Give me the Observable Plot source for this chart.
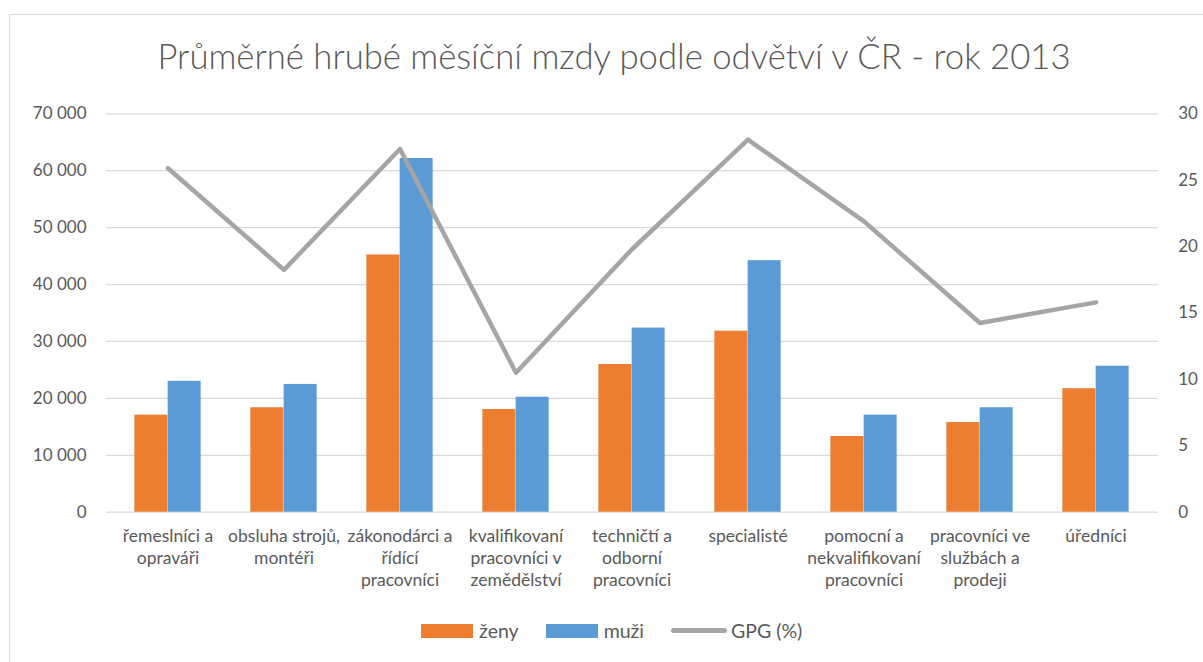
<!DOCTYPE html>
<html>
<head>
<meta charset="utf-8">
<script src="https://cdn.jsdelivr.net/npm/d3@7"></script>
<script src="https://cdn.jsdelivr.net/npm/@observablehq/plot@0.6"></script>
<style>
  html, body { margin: 0; padding: 0; background: #fff; width: 1203px; height: 662px; overflow: hidden; }
  body { position: relative; font-family: Lato, "Open Sans", sans-serif; color: #595959; }
  #frame { position: absolute; left: 9px; top: 14px; width: 1230px; height: 700px; border: 1.5px solid #d9d9d9; box-sizing: border-box; }
  #title { position: absolute; left: 9px; width: 1210px; top: 35px; text-align: center; font-size: 34.7px; font-weight: 300; color: #595959; white-space: nowrap; }
  #chart { position: absolute; left: 0; top: 0; }
  #legend { position: absolute; left: 421px; top: 619px; display: flex; align-items: center; font-size: 19.5px; color: #595959; }
  .sw { display: inline-block; width: 52px; height: 14px; margin-right: 6px; }
  .item { display: flex; align-items: center; margin-right: 27px; }
  .ln { display: inline-block; width: 56px; height: 5px; border-radius: 3px; background: #a5a5a5; margin-right: 4px; }
</style>
</head>
<body>
<div id="frame"></div>
<div id="title">Průměrné hrubé měsíční mzdy podle odvětví v ČR - rok 2013</div>
<div id="chart"></div>
<div id="legend"></div>
<script>
const categories = [
  "řemeslníci a opraváři",
  "obsluha strojů, montéři",
  "zákonodárci a řídící pracovníci",
  "kvalifikovaní pracovníci v zemědělství",
  "techničtí a odborní pracovníci",
  "specialisté",
  "pomocní a nekvalifikovaní pracovníci",
  "pracovníci ve službách a prodeji",
  "úředníci"
];
const tickLabels = [
  "řemeslníci a\nopraváři",
  "obsluha strojů,\nmontéři",
  "zákonodárci a\nřídící\npracovníci",
  "kvalifikovaní\npracovníci v\nzemědělství",
  "techničtí a\nodborní\npracovníci",
  "specialisté",
  "pomocní a\nnekvalifikovaní\npracovníci",
  "pracovníci ve\nslužbách a\nprodeji",
  "úředníci"
];
const zeny = [17050, 18350, 45200, 18050, 25950, 31800, 13300, 15750, 21700];
const muzi = [23000, 22450, 62150, 20200, 32350, 44200, 17050, 18350, 25650];
const gpg  = [25.9, 18.25, 27.35, 10.5, 19.8, 28.05, 21.9, 14.25, 15.8];
const seriesNames = ["ženy", "muži", "GPG (%)"];
const colors = ["#ED7D31", "#5B9BD5", "#A5A5A5"];
const leftTicks = [0, 10000, 20000, 30000, 40000, 50000, 60000, 70000];
const rightTicks = [0, 5, 10, 15, 20, 25, 30];

const yMax = 70000, rMax = 30;
const toLeft = v => v * yMax / rMax;

const barsZ = categories.map((c, i) => ({cat: c, value: zeny[i]}));
const barsM = categories.map((c, i) => ({cat: c, value: muzi[i]}));
const line = categories.map((c, i) => ({cat: c, value: toLeft(gpg[i])}));
const labelOf = new Map(categories.map((c, i) => [c, tickLabels[i]]));
const fmt = d => d === 0 ? "0" : d3.format(",")(d).replace(/,/g, " ");

const W = 1203, H = 662;
const mL = 106, mR = 45.3, mT = 113.3, mB = H - 511.7;
const step = (W - mL - mR) / categories.length;
const barW = 33.3;
const pInner = 1 - barW / step;

const chart = Plot.plot({
  width: W, height: H,
  marginLeft: mL, marginRight: mR, marginTop: mT, marginBottom: mB,
  style: {fontFamily: "Lato, 'Open Sans', sans-serif", color: "#595959", background: "transparent"},
  x: {domain: categories, paddingInner: pInner, paddingOuter: pInner / 2, align: 0.5},
  y: {domain: [0, yMax]},
  marks: [
    Plot.gridY(leftTicks, {stroke: "#d9d9d9", strokeOpacity: 1, strokeWidth: 1.3}),
    Plot.barY(barsZ, {x: "cat", y: "value", fill: colors[0], dx: -barW / 2}),
    Plot.barY(barsM, {x: "cat", y: "value", fill: colors[1], dx: barW / 2}),
    Plot.line(line, {x: "cat", y: "value", stroke: colors[2], strokeWidth: 4.5, strokeLinecap: "round", strokeLinejoin: "round"}),
    Plot.axisY(leftTicks, {anchor: "left", tickSize: 0, tickPadding: 20, tickFormat: fmt, fontSize: 17, label: null}),
    Plot.axisY(rightTicks.map(toLeft), {anchor: "right", tickSize: 0, tickPadding: 20, tickFormat: d => String(Math.round(d * rMax / yMax)), fontSize: 17, label: null}),
    Plot.axisX({tickSize: 0, tickPadding: 15, tickFormat: d => labelOf.get(d), fontSize: 17.5, lineHeight: 1.23, label: null})
  ]
});
document.getElementById("chart").appendChild(chart);

const legend = document.getElementById("legend");
seriesNames.forEach((name, i) => {
  const item = document.createElement("div");
  item.className = "item";
  const sw = document.createElement("span");
  sw.className = i < 2 ? "sw" : "ln";
  sw.style.background = colors[i];
  const t = document.createElement("span");
  t.textContent = name;
  item.appendChild(sw); item.appendChild(t);
  legend.appendChild(item);
});
</script>
</body>
</html>
